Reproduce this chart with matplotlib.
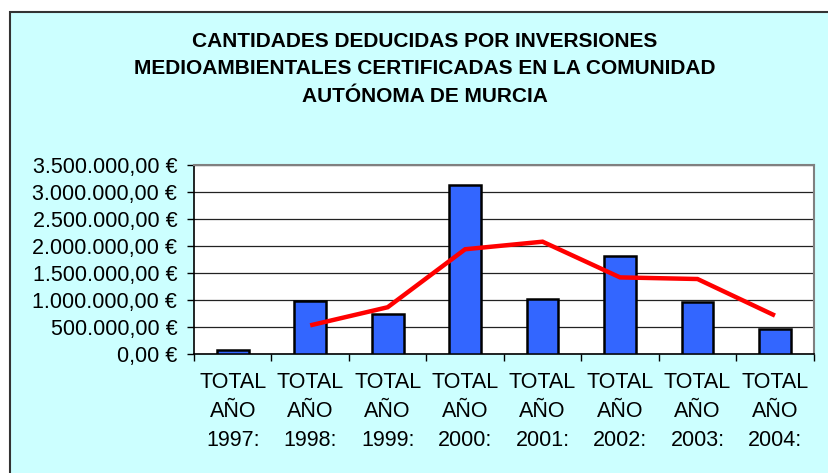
import matplotlib.pyplot as plt
from matplotlib.patches import Rectangle
from matplotlib.ticker import FuncFormatter

plt.rcParams["font.family"] = ["Liberation Sans", "DejaVu Sans"]

years = ["1997", "1998", "1999", "2000", "2001", "2002", "2003", "2004"]
amounts = [80000, 990000, 750000, 3135000, 1030000, 1815000, 970000, 463000]
# trend line (2-period moving average), starts in 1998
trend_years = years[1:]
trend = [535000, 870000, 1942000, 2082000, 1422000, 1392000, 716000]

labels = [f"TOTAL\nAÑO\n{y}:" for y in years]

W, H = 829, 473
fig = plt.figure(figsize=(W / 100, H / 100), dpi=100, facecolor="white")

# chart area: cyan panel with a dark frame
fig.patches.append(Rectangle((10 / W, -0.05), 1.1, (H - 12) / H + 0.05,
                             transform=fig.transFigure, facecolor="#CCFFFF",
                             edgecolor="#333333", linewidth=1.5, zorder=-1))

ax = fig.add_axes([194 / W, (H - 354.3) / H, (813.7 - 194) / W, (354.3 - 165) / H])
ax.set_zorder(2)
ax.set_facecolor("white")

x = list(range(len(years)))
ax.bar(x, amounts, width=0.41, color="#3366FF", edgecolor="black",
       linewidth=1.8, zorder=3)
xt = [years.index(y) for y in trend_years]
ax.plot(xt, trend, color="#FF0000", linewidth=3.2, zorder=4,
        solid_capstyle="butt", solid_joinstyle="miter")

ax.set_xlim(-0.5, len(years) - 0.5)
ax.set_ylim(0, 3500000)
ax.set_yticks(range(0, 3500001, 500000))


def euro(v, pos):
    s = f"{v:,.2f}".replace(",", "X").replace(".", ",").replace("X", ".")
    return s + " €"


ax.yaxis.set_major_formatter(FuncFormatter(euro))
ax.yaxis.grid(True, color="#222222", linewidth=0.9, zorder=1)
ax.set_axisbelow(True)

# category ticks sit on the boundaries, labels in the middle
ax.set_xticks([i - 0.5 for i in range(len(years) + 1)])
ax.set_xticklabels([])
ax.set_xticks(x, minor=True)
ax.set_xticklabels(labels, minor=True, fontsize=15.5, linespacing=1.5)
ax.tick_params(axis="x", which="minor", length=0, pad=13)
ax.tick_params(axis="x", which="major", length=5, width=1, color="black", direction="out")
ax.tick_params(axis="y", length=5, width=1, labelsize=15.5, pad=7)

for side in ("left", "bottom"):
    ax.spines[side].set_color("black")
    ax.spines[side].set_linewidth(1.2)
for side in ("top", "right"):
    ax.spines[side].set_color("#808080")
    ax.spines[side].set_linewidth(1.5)

fig.text(425 / W, 1 - 69 / H,
         "CANTIDADES DEDUCIDAS POR INVERSIONES\n"
         "MEDIOAMBIENTALES CERTIFICADAS EN LA COMUNIDAD\n"
         "AUTÓNOMA DE MURCIA",
         ha="center", va="center", fontsize=15, fontweight="bold",
         linespacing=1.57)

fig.savefig("out.png", dpi=100, facecolor=fig.get_facecolor())
